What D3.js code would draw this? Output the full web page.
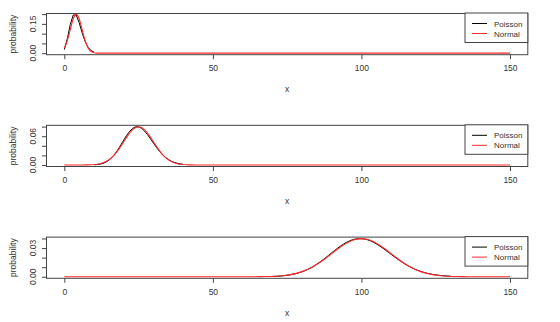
<!DOCTYPE html>
<html><head><meta charset="utf-8">
<script src="https://cdn.jsdelivr.net/npm/d3@7"></script>
<style>body{margin:0;background:#fff}svg{display:block;font-family:"Liberation Sans",Arial,sans-serif}</style>
</head><body><svg id="c" width="560" height="322"></svg>
<script>
// ---- data ----
const xTicks = [0, 50, 100, 150];
const legendLabels = ["Poisson", "Normal"];

// Panel 1: lambda = 4
const pois1X = [0,1,2,3,4,5,6,7,8,9,10];
const pois1Y = [0.0183,0.0733,0.1465,0.1954,0.1954,0.1563,0.1042,0.0595,0.0298,0.0132,0.0053];
const norm1X = [0,0.5,1,1.5,2,2.5,3,3.5,4,4.5,5,5.5,6,6.5,7,7.5,8,8.5,9,9.5,10,10.5,11,11.5,12,150];
const norm1Y = [0.0270,0.0431,0.0648,0.0913,0.1210,0.1506,0.1760,0.1933,0.1995,0.1933,0.1760,0.1506,0.1210,0.0913,0.0648,0.0431,0.0270,0.0159,0.0088,0.0046,0.0022,0.0010,0.0004,0.0002,0.0001,0];
const yTicks1 = [0, 0.05, 0.10, 0.15, 0.20];
const yLabels1 = [0, 0.15];

// Panel 2: lambda = 25
const pois2X = [10,11,12,13,14,15,16,17,18,19,20,21,22,23,24,25,26,27,28,29,30,31,32,33,34,35,36,37,38,39,40];
const pois2Y = [0.00036,0.00083,0.00173,0.00332,0.00594,0.00989,0.01546,0.02273,0.03157,0.04153,0.05192,0.06180,0.07023,0.07634,0.07952,0.07952,0.07646,0.07080,0.06321,0.05450,0.04541,0.03662,0.02861,0.02168,0.01594,0.01138,0.00791,0.00534,0.00351,0.00225,0.00141];
const norm2X = [0,5,6,7,8,9,10,11,12,13,14,15,16,17,18,19,20,21,22,23,24,25,26,27,28,29,30,31,32,33,34,35,36,37,38,39,40,41,42,43,44,45,150];
const norm2Y = [0,0.00003,0.00005,0.00012,0.00025,0.00048,0.00089,0.00158,0.00272,0.00448,0.00709,0.01080,0.01579,0.02218,0.02995,0.03884,0.04839,0.05794,0.06665,0.07365,0.07821,0.07979,0.07821,0.07365,0.06665,0.05794,0.04839,0.03884,0.02995,0.02218,0.01579,0.01080,0.00709,0.00448,0.00272,0.00158,0.00089,0.00048,0.00025,0.00012,0.00005,0.00003,0];
const yTicks2 = [0, 0.02, 0.04, 0.06, 0.08];
const yLabels2 = [0, 0.06];

// Panel 3: lambda = 100
const pois3X = [70,71,72,73,74,75,76,77,78,79,80,81,82,83,84,85,86,87,88,89,90,91,92,93,94,95,96,97,98,99,100,101,102,103,104,105,106,107,108,109,110,111,112,113,114,115,116,117,118,119,120,121,122,123,124,125,126,127,128,129,130];
const pois3Y = [0.000311,0.000437,0.000608,0.000832,0.001125,0.001499,0.001973,0.002562,0.003285,0.004158,0.005198,0.006417,0.007826,0.009428,0.011224,0.013205,0.015355,0.017649,0.020056,0.022535,0.025039,0.027515,0.029908,0.032159,0.034211,0.036012,0.037513,0.038673,0.039462,0.039861,0.039861,0.039466,0.038692,0.037565,0.036121,0.034401,0.032454,0.030331,0.028084,0.025765,0.023423,0.021102,0.018841,0.016673,0.014626,0.012718,0.010964,0.009371,0.007941,0.006673,0.005561,0.004596,0.003767,0.003063,0.002470,0.001976,0.001568,0.001235,0.000965,0.000748,0.000575];
const norm3X = [0,60,62,64,66,68,70,72,74,76,78,80,82,84,86,88,90,92,94,96,98,100,102,104,106,108,110,112,114,116,118,120,122,124,126,128,130,132,134,136,138,140,150];
const norm3Y = [0,0.00001,0.00003,0.00006,0.00012,0.00024,0.00044,0.00079,0.00136,0.00224,0.00355,0.00540,0.00789,0.01109,0.01497,0.01942,0.02420,0.02897,0.03332,0.03683,0.03910,0.03989,0.03910,0.03683,0.03332,0.02897,0.02420,0.01942,0.01497,0.01109,0.00789,0.00540,0.00355,0.00224,0.00136,0.00079,0.00044,0.00024,0.00012,0.00006,0.00003,0.00001,0];
const yTicks3 = [0, 0.01, 0.02, 0.03, 0.04];
const yLabels3 = [0, 0.03];

const panels = [
  {px: pois1X, py: pois1Y, nx: norm1X, ny: norm1Y, yt: yTicks1, yl: yLabels1},
  {px: pois2X, py: pois2Y, nx: norm2X, ny: norm2Y, yt: yTicks2, yl: yLabels2},
  {px: pois3X, py: pois3Y, nx: norm3X, ny: norm3Y, yt: yTicks3, yl: yLabels3}
];

// ---- drawing ----
const svg = d3.select("#c");
const left = 46.5, right = 527.8, boxH = 41.2;
const tops = [13.5, 125.3, 237.1];
const axisCol = "#444", textCol = "#333";

const x = d3.scaleLinear().domain([-6, 156]).range([left, right]);

panels.forEach((p, i) => {
  const top = tops[i], bottom = top + boxH;
  const pmax = d3.max(p.py);
  const y = d3.scaleLinear().domain([-0.04 * pmax, 1.04 * pmax]).range([bottom, top]);
  const g = svg.append("g");

  // Poisson (black) then Normal (red)
  const line = d3.line().x(d => x(d[0])).y(d => y(d[1]));
  g.append("path").datum(d3.zip(p.px, p.py)).attr("d", line)
    .attr("fill", "none").attr("stroke", "#000").attr("stroke-width", 1);
  g.append("path").datum(d3.zip(p.nx, p.ny)).attr("d", line)
    .attr("fill", "none").attr("stroke", "#ff2a2a").attr("stroke-width", 1.1);

  // box
  g.append("rect").attr("x", left).attr("y", top).attr("width", right - left).attr("height", boxH)
    .attr("fill", "none").attr("stroke", axisCol).attr("stroke-width", 1);

  // x axis
  const xa = g.append("g").attr("transform", `translate(0,${bottom})`)
    .call(d3.axisBottom(x).tickValues(xTicks).tickSize(4.5).tickPadding(6).tickFormat(d3.format("d")));
  xa.select(".domain").remove();
  xa.selectAll("line").attr("stroke", axisCol);
  xa.selectAll("text").attr("fill", textCol).attr("font-size", "8.5px").attr("font-family", "Liberation Sans, Arial, sans-serif");

  // y axis ticks
  const ya = g.append("g").attr("transform", `translate(${left},0)`)
    .call(d3.axisLeft(y).tickValues(p.yt).tickSize(4.5).tickFormat(""));
  ya.select(".domain").remove();
  ya.selectAll("line").attr("stroke", axisCol);
  // y labels (rotated)
  p.yl.forEach(v => {
    g.append("text").attr("transform", `translate(35.5,${y(v)}) rotate(-90)`)
      .attr("text-anchor", "middle").attr("font-size", "8.5px").attr("fill", textCol)
      .text(d3.format(".2f")(v));
  });

  // axis titles
  g.append("text").attr("x", (left + right) / 2).attr("y", bottom + 37.5)
    .attr("text-anchor", "middle").attr("font-size", "8.5px").attr("fill", textCol).text("x");
  g.append("text").attr("transform", `translate(16,${(top + bottom) / 2}) rotate(-90)`)
    .attr("text-anchor", "middle").attr("font-size", "8.5px").attr("fill", textCol).text("probability");

  // legend
  const lx = 465, ly = top - 0.5, lw = right - 465, lh = 29.5;
  g.append("rect").attr("x", lx).attr("y", ly).attr("width", lw).attr("height", lh)
    .attr("fill", "#fff").attr("stroke", axisCol).attr("stroke-width", 1);
  const cols = ["#000", "#ff2a2a"];
  legendLabels.forEach((lab, j) => {
    const yy = ly + 10.5 + j * 10;
    g.append("line").attr("x1", 472).attr("x2", 487).attr("y1", yy).attr("y2", yy)
      .attr("stroke", cols[j]).attr("stroke-width", 1);
    g.append("text").attr("x", 494).attr("y", yy + 3).attr("font-size", "8px").attr("fill", textCol).text(lab);
  });
});
</script></body></html>
